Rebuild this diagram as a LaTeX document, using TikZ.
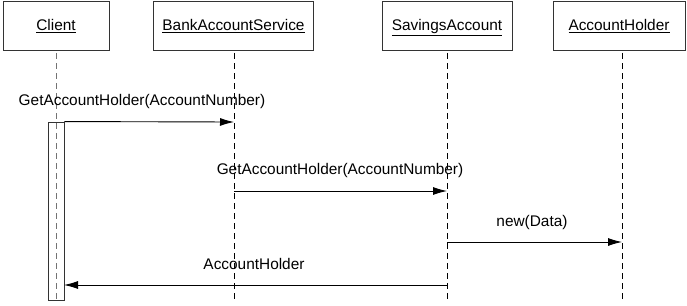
\documentclass[tikz,border=0pt]{standalone}
\usepackage{fontspec}
\setmainfont{Liberation Sans}
\usetikzlibrary{arrows.meta}
\begin{document}
\begin{tikzpicture}[x=1pt,y=-1pt,
  obj/.style={draw=black!80,line width=0.9pt,minimum width=#1,minimum height=49pt,inner sep=0pt,text height=11pt,text depth=0pt,font=\fontsize{15.4}{17}\selectfont},
  life/.style={dash pattern=on 6pt off 4pt,line width=0.9pt},
  msg/.style={line width=0.9pt,-{Latex[length=14pt,width=8pt]}},
  lbl/.style={font=\fontsize{15.4}{17}\selectfont,inner sep=0pt,anchor=base}]
\useasboundingbox (0,0) rectangle (687,305);
\node[obj=106pt] (client) at (56,25.5) {\underline{Client}};
\node[obj=160pt] (bank) at (233.5,25.5) {\underline{BankAccountService}};
\node[obj=130pt] (sav) at (447,25.5) {\underline{SavingsAccount}};
\node[obj=132pt] (holder) at (619,25.5) {\underline{AccountHolder}};
\coordinate (cE) at (56,300);
\coordinate (bE) at (234,300);
\coordinate (sE) at (447,300);
\coordinate (hE) at (622,300);
\draw[life,black!55] (56,53) -- (cE);
\draw[life] (234,53) -- (bE);
\draw[life] (447,53) -- (sE);
\draw[life] (622,53) -- (hE);
\node[draw=black!80,line width=0.9pt,minimum width=16pt,minimum height=178pt,inner sep=0pt] (act) at (56,211) {};
\coordinate (b1) at (234,122);
\coordinate (s2a) at (234,191);
\coordinate (s2) at (447,191);
\coordinate (s3a) at (447,242);
\coordinate (h3) at (622,242);
\coordinate (s4) at (447,285);
\coordinate (c4) at (64,285);
\draw[msg] (act.north east) -- (b1);
\draw[msg] (s2a) -- (s2);
\draw[msg] (s3a) -- (h3);
\draw[msg] (s4) -- (c4);
\node[lbl] (l1) at (142,105.5) {GetAccountHolder(AccountNumber)};
\node[lbl] (l2) at (340,174.5) {GetAccountHolder(AccountNumber)};
\node[lbl] (l3) at (532,226) {new(Data)};
\node[lbl] (l4) at (254,269) {AccountHolder};
\end{tikzpicture}
\end{document}
